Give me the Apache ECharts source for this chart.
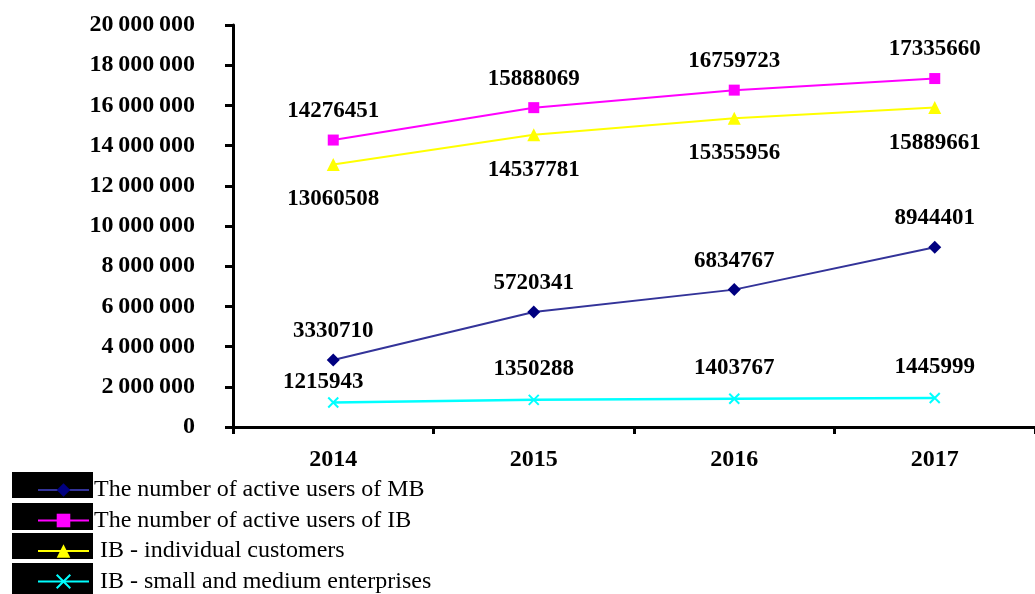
<!DOCTYPE html>
<html>
<head>
<meta charset="utf-8">
<script src="https://cdn.jsdelivr.net/npm/echarts@6/dist/echarts.min.js"></script>
<style>
html,body{margin:0;padding:0;background:#fff;}
#c{width:1035px;height:594px;}
</style>
</head>
<body>
<div id="c"></div>
<script>
var categories = ['2014', '2015', '2016', '2017'];
var seriesNames = [
  'The number of active users of MB',
  'The number of active users of IB',
  ' IB - individual customers',
  ' IB - small and medium enterprises'
];
var mbUsers = [3330710, 5720341, 6834767, 8944401];
var ibUsers = [14276451, 15888069, 16759723, 17335660];
var ibIndividual = [13060508, 14537781, 15355956, 15889661];
var ibSme = [1215943, 1350288, 1403767, 1445999];
var yMin = 0, yMax = 20000000, yStep = 2000000;

var chart = echarts.init(document.getElementById('c'), null, {renderer: 'canvas'});
var serif = '"Liberation Serif", "Times New Roman", serif';

function fmtTick(v) {
  var s = String(Math.round(v));
  return s.replace(/\B(?=(\d{3})+(?!\d))/g, '\u2009');
}

function withFirstOffset(arr, offset) {
  return arr.map(function (v, i) {
    if (i === 0 && offset) return {value: v, label: {offset: offset}};
    return v;
  });
}

var labelBase = {
  show: true,
  color: '#000',
  fontFamily: serif,
  fontWeight: 'bold',
  fontSize: 23
};

var xSymbol = 'path://M0,0L10,10M10,0L0,10';

var option = {
  backgroundColor: '#ffffff',
  animation: false,
  grid: {left: 233, top: 25, width: 815, bottom: 167, containLabel: false},
  xAxis: {
    type: 'category',
    data: categories,
    boundaryGap: true,
    axisLine: {show: true, lineStyle: {color: '#000', width: 3}},
    axisTick: {show: true, inside: false, length: 7, lineStyle: {color: '#000', width: 3}},
    axisLabel: {color: '#000', fontFamily: serif, fontWeight: 'bold', fontSize: 24, margin: 21},
    splitLine: {show: false}
  },
  yAxis: {
    type: 'value',
    min: yMin, max: yMax, interval: yStep,
    axisLine: {show: true, lineStyle: {color: '#000', width: 3}},
    axisTick: {show: true, inside: false, length: 8, lineStyle: {color: '#000', width: 3}},
    axisLabel: {color: '#000', fontFamily: serif, fontWeight: 'bold', fontSize: 24, margin: 38, formatter: fmtTick},
    splitLine: {show: false}
  },
  legend: {
    orient: 'vertical',
    left: 32,
    top: 472,
    height: 160,
    itemWidth: 51,
    itemHeight: 17,
    itemGap: 4.5,
    z: 10,
    textStyle: {color: '#000', fontFamily: serif, fontSize: 24, lineHeight: 26},
    data: seriesNames
  },
  graphic: [
    {type: 'rect', left: 12, top: 472, z: 0, shape: {width: 81, height: 26}, style: {fill: '#000'}},
    {type: 'rect', left: 12, top: 503, z: 0, shape: {width: 81, height: 27}, style: {fill: '#000'}},
    {type: 'rect', left: 12, top: 533, z: 0, shape: {width: 81, height: 26}, style: {fill: '#000'}},
    {type: 'rect', left: 12, top: 563, z: 0, shape: {width: 81, height: 31}, style: {fill: '#000'}}
  ],
  series: [
    {
      name: seriesNames[0], type: 'line', data: mbUsers,
      symbol: 'diamond', symbolSize: 13,
      lineStyle: {color: '#333399', width: 2},
      itemStyle: {color: '#000080'},
      label: Object.assign({}, labelBase, {position: 'top', distance: 11})
    },
    {
      name: seriesNames[1], type: 'line', data: ibUsers,
      symbol: 'rect', symbolSize: 11,
      lineStyle: {color: '#FF00FF', width: 2},
      itemStyle: {color: '#FF00FF'},
      label: Object.assign({}, labelBase, {position: 'top', distance: 12})
    },
    {
      name: seriesNames[2], type: 'line', data: ibIndividual,
      symbol: 'triangle', symbolSize: 13,
      lineStyle: {color: '#FFFF00', width: 2},
      itemStyle: {color: '#FFFF00'},
      label: Object.assign({}, labelBase, {position: 'bottom', distance: 17})
    },
    {
      name: seriesNames[3], type: 'line', data: withFirstOffset(ibSme, [-10, 10]),
      symbol: xSymbol, symbolSize: 10,
      lineStyle: {color: '#00FFFF', width: 2.5},
      itemStyle: {color: '#00FFFF', borderColor: '#00FFFF', borderWidth: 2},
      label: Object.assign({}, labelBase, {position: 'top', distance: 13})
    }
  ]
};
chart.setOption(option);
</script>
</body>
</html>
